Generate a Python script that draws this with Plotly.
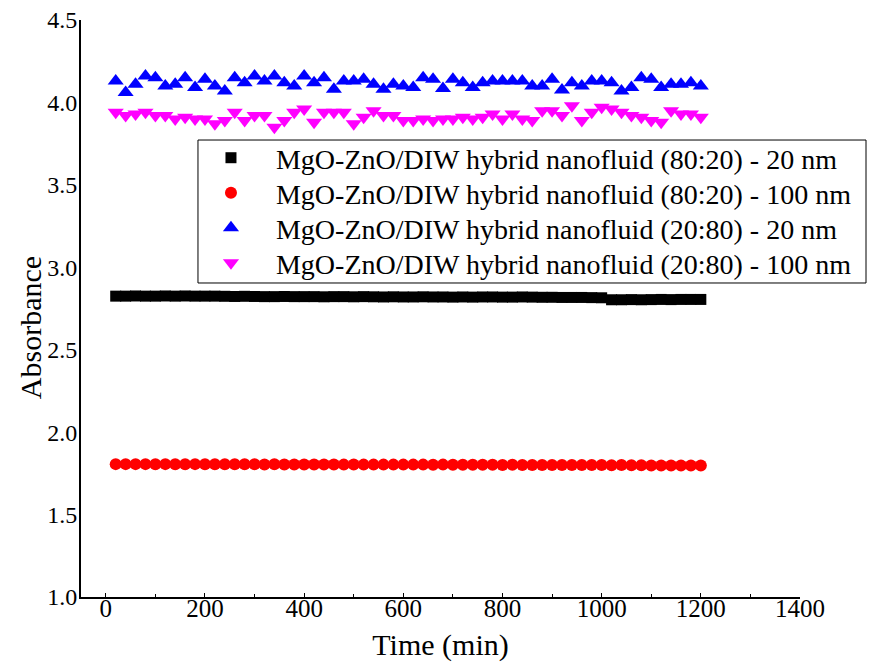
import plotly.graph_objects as go

# Sampling times (min)
time_min = list(range(20, 1201, 20))

# Absorbance readings for each hybrid nanofluid sample
abs_8020_20nm = [
    2.825, 2.825, 2.826, 2.825, 2.825, 2.826, 2.825, 2.826, 2.825, 2.825,
    2.825, 2.824, 2.823, 2.824, 2.823, 2.822, 2.822, 2.823, 2.822, 2.822,
    2.822, 2.821, 2.822, 2.822, 2.821, 2.822, 2.821, 2.820, 2.821, 2.820,
    2.820, 2.821, 2.820, 2.820, 2.819, 2.820, 2.819, 2.820, 2.820, 2.819,
    2.819, 2.820, 2.819, 2.818, 2.818, 2.817, 2.817, 2.817, 2.816, 2.815,
    2.803, 2.803, 2.804, 2.803, 2.804, 2.805, 2.804, 2.805, 2.805, 2.805,
]
abs_8020_100nm = [
    1.806, 1.806, 1.806, 1.806, 1.805, 1.806, 1.805, 1.805, 1.806, 1.805,
    1.805, 1.805, 1.805, 1.805, 1.805, 1.804, 1.805, 1.804, 1.804, 1.804,
    1.804, 1.804, 1.804, 1.803, 1.804, 1.803, 1.803, 1.803, 1.803, 1.803,
    1.803, 1.803, 1.802, 1.803, 1.802, 1.802, 1.802, 1.802, 1.802, 1.801,
    1.802, 1.801, 1.801, 1.801, 1.801, 1.800, 1.801, 1.800, 1.800, 1.800,
    1.799, 1.800, 1.799, 1.799, 1.798, 1.798, 1.797, 1.798, 1.797, 1.797,
]
abs_2080_20nm = [
    4.13, 4.06, 4.11, 4.16, 4.15, 4.10, 4.11, 4.15, 4.09, 4.14,
    4.10, 4.07, 4.15, 4.12, 4.16, 4.13, 4.16, 4.12, 4.10, 4.16,
    4.12, 4.15, 4.08, 4.13, 4.13, 4.14, 4.11, 4.08, 4.11, 4.10,
    4.09, 4.15, 4.14, 4.085, 4.14, 4.12, 4.09, 4.12, 4.13, 4.13,
    4.13, 4.13, 4.10, 4.10, 4.14, 4.075, 4.12, 4.10, 4.13, 4.13,
    4.12, 4.07, 4.09, 4.15, 4.14, 4.09, 4.11, 4.11, 4.12, 4.10,
]
abs_2080_100nm = [
    3.94, 3.92, 3.93, 3.94, 3.92, 3.92, 3.90, 3.91, 3.90, 3.90,
    3.87, 3.89, 3.94, 3.89, 3.92, 3.92, 3.85, 3.89, 3.94, 3.96,
    3.88, 3.94, 3.94, 3.94, 3.87, 3.91, 3.95, 3.92, 3.92, 3.89,
    3.89, 3.90, 3.89, 3.90, 3.90, 3.91, 3.90, 3.91, 3.93, 3.90,
    3.93, 3.90, 3.89, 3.95, 3.95, 3.92, 3.98, 3.89, 3.94, 3.97,
    3.96, 3.94, 3.92, 3.91, 3.89, 3.88, 3.95, 3.93, 3.93, 3.91,
]

series_names = [
    "MgO-ZnO/DIW hybrid nanofluid (80:20) - 20 nm",
    "MgO-ZnO/DIW hybrid nanofluid (80:20) - 100 nm",
    "MgO-ZnO/DIW hybrid nanofluid (20:80) - 20 nm",
    "MgO-ZnO/DIW hybrid nanofluid (20:80) - 100 nm",
]
series_values = [abs_8020_20nm, abs_8020_100nm, abs_2080_20nm, abs_2080_100nm]
series_style = [
    ("square", "#000000", 11),
    ("circle", "#ff0000", 12),
    ("triangle-up", "#0000ff", 14),
    ("triangle-down", "#ff00ff", 14),
]

FONT = "Liberation Serif"

# one legend per entry so the rows can sit closer than the default spacing
legend_ids = ["legend", "legend2", "legend3", "legend4"]
legend_rows_y = [0.7608, 0.7002, 0.6395, 0.5789]

fig = go.Figure()
for name, vals, (sym, col, size), lid in zip(series_names, series_values,
                                              series_style, legend_ids):
    fig.add_trace(go.Scatter(
        x=time_min, y=vals, name=name, mode="markers", legend=lid,
        marker=dict(symbol=sym, color=col, size=size, line=dict(width=0)),
    ))

legend_common = dict(
    x=0.146, xanchor="left", yanchor="middle",
    borderwidth=0, bgcolor="rgba(0,0,0,0)",
    font=dict(family=FONT, size=28, color="black"),
    itemsizing="trace", itemwidth=80,
)

layout_legends = {lid: dict(legend_common, y=ly)
                  for lid, ly in zip(legend_ids, legend_rows_y)}

fig.update_layout(
    width=870, height=662,
    margin=dict(l=81, r=70, t=20, b=65, autoexpand=False),
    paper_bgcolor="white", plot_bgcolor="white",
    font=dict(family=FONT, color="black", size=24),
    showlegend=True,
    **layout_legends,
)

# legend frame
fig.add_shape(
    type="rect", xref="paper", yref="paper",
    x0=0.1627, x1=1.0918, y0=0.5442, y1=0.7920,
    line=dict(color="black", width=1), fillcolor="white", layer="above",
)

# y-axis title, sitting a little below the middle of the axis
fig.add_annotation(
    text="Absorbance", xref="paper", yref="paper",
    x=-0.0709, y=0.466, xanchor="center", yanchor="middle",
    textangle=-90, showarrow=False,
    font=dict(family=FONT, size=30, color="black"),
)

fig.update_xaxes(
    range=[-50, 1400], tickvals=list(range(0, 1401, 200)),
    showgrid=False, zeroline=False, automargin=False,
    showline=True, linecolor="black", linewidth=2,
    ticks="inside", ticklen=4, tickcolor="black", tickwidth=1,
    minor=dict(dtick=100, tick0=0, ticks="inside", ticklen=3, tickcolor="black"),
    tickfont=dict(family=FONT, size=25, color="black"),
    ticklabelstandoff=-12,
    title=dict(text="Time (min)", font=dict(family=FONT, size=30), standoff=14),
)
fig.update_yaxes(
    range=[1.0, 4.5], tickvals=[1.0, 1.5, 2.0, 2.5, 3.0, 3.5, 4.0, 4.5],
    ticktext=["1.0", "1.5", "2.0", "2.5", "3.0", "3.5", "4.0", "4.5"],
    showgrid=False, zeroline=False, automargin=False,
    showline=True, linecolor="black", linewidth=2,
    ticks="", ticklabelstandoff=-3,
    tickfont=dict(family=FONT, size=24, color="black"),
)

fig.write_html("out.html")
